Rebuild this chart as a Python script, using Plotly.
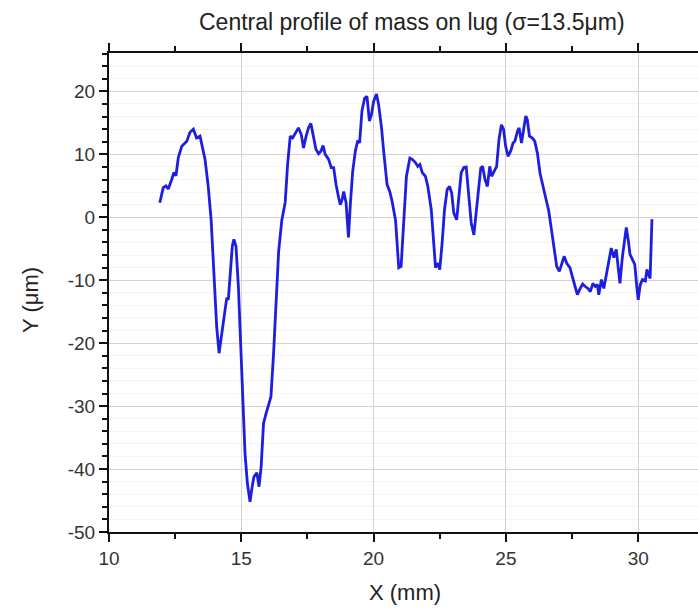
import plotly.graph_objects as go

x_mm = [11.92, 12.05, 12.15, 12.24, 12.37, 12.45, 12.53, 12.62, 12.75, 12.94, 13.06, 13.19, 13.31, 13.44,
        13.63, 13.75, 13.86, 13.96, 14.07, 14.16, 14.26, 14.39, 14.45, 14.51, 14.60, 14.66, 14.72, 14.80,
        14.89, 14.98, 15.06, 15.14, 15.23, 15.33, 15.41, 15.48, 15.59, 15.67, 15.75, 15.84, 15.94, 16.03,
        16.12, 16.22, 16.32, 16.41, 16.53, 16.66, 16.75, 16.85, 16.94, 17.04, 17.16, 17.27, 17.35, 17.45,
        17.54, 17.63, 17.73, 17.82, 17.92, 18.01, 18.09, 18.17, 18.30, 18.40, 18.49, 18.58, 18.68, 18.74,
        18.81, 18.87, 18.96, 19.05, 19.12, 19.21, 19.31, 19.40, 19.47, 19.56, 19.66, 19.75, 19.84, 19.92,
        20.00, 20.11, 20.19, 20.30, 20.38, 20.51, 20.61, 20.70, 20.83, 20.95, 21.04, 21.14, 21.24, 21.37,
        21.46, 21.58, 21.67, 21.75, 21.84, 21.96, 22.05, 22.18, 22.28, 22.34, 22.43, 22.50, 22.59, 22.68,
        22.78, 22.87, 22.95, 23.03, 23.14, 23.22, 23.31, 23.41, 23.50, 23.60, 23.69, 23.79, 23.92, 24.05,
        24.12, 24.21, 24.30, 24.39, 24.46, 24.55, 24.65, 24.74, 24.83, 24.91, 24.99, 25.08, 25.18, 25.27,
        25.34, 25.44, 25.50, 25.59, 25.66, 25.75, 25.81, 25.89, 26.00, 26.09, 26.19, 26.29, 26.47, 26.62,
        26.73, 26.83, 26.92, 27.02, 27.11, 27.20, 27.30, 27.42, 27.53, 27.62, 27.70, 27.81, 27.90, 28.00,
        28.10, 28.19, 28.29, 28.38, 28.46, 28.51, 28.61, 28.70, 28.76, 28.89, 28.98, 29.08, 29.17, 29.25,
        29.31, 29.40, 29.49, 29.55, 29.63, 29.69, 29.78, 29.87, 29.94, 30.00, 30.08, 30.16, 30.27, 30.33,
        30.39, 30.45, 30.52]

y_um = [2.3, 4.7, 5.0, 4.5, 6.0, 7.1, 6.6, 9.5, 11.3, 12.1, 13.5, 14.0, 12.6, 12.9,
        9.2, 4.9, -0.4, -9.0, -17.4, -21.6, -18.4, -14.7, -12.8, -13.1, -8.3, -4.6, -3.5, -4.6,
        -11.0, -21.6, -30.1, -37.5, -42.3, -45.2, -42.8, -41.2, -40.6, -42.8, -39.6, -32.7, -31.1, -29.8,
        -28.5, -21.6, -13.6, -5.5, -0.5, 2.4, 8.4, 12.9, 12.6, 13.4, 14.2, 13.1, 11.0, 12.9,
        14.2, 14.9, 12.6, 10.8, 10.1, 10.5, 11.4, 10.0, 9.2, 7.9, 7.9, 5.2, 3.1, 2.0,
        2.8, 4.1, 2.3, -3.2, 2.0, 7.3, 10.5, 12.2, 11.8, 16.9, 18.9, 19.2, 15.3, 16.3,
        18.4, 19.6, 17.9, 14.2, 10.5, 5.2, 4.1, 2.5, -0.5, -8.0, -7.8, -0.4, 6.5, 9.4,
        9.2, 8.7, 8.1, 8.4, 7.1, 6.5, 4.9, 1.2, -4.1, -8.0, -7.3, -8.3, -4.1, 1.2,
        4.4, 4.9, 3.9, 0.7, -0.4, 2.8, 7.1, 7.9, 8.0, 3.3, -0.9, -2.8, 2.0, 7.8,
        8.1, 6.0, 4.9, 8.1, 6.5, 7.3, 8.1, 12.4, 14.7, 14.0, 11.3, 9.7, 10.5, 11.8,
        12.1, 13.7, 14.2, 11.8, 13.7, 16.1, 15.5, 12.9, 12.6, 12.1, 10.2, 7.0, 3.7, 1.0,
        -2.2, -5.4, -7.8, -8.6, -7.5, -6.2, -7.3, -8.0, -9.7, -11.3, -12.3, -11.3, -10.6, -11.0,
        -11.3, -11.8, -10.5, -11.0, -10.7, -12.3, -9.9, -11.3, -10.1, -7.0, -4.9, -6.4, -5.1, -8.0,
        -10.5, -6.4, -3.8, -1.6, -3.8, -5.9, -6.7, -7.5, -10.7, -13.1, -10.7, -9.9, -10.1, -8.3,
        -9.1, -9.7, -0.3]

x_ticks = [10, 15, 20, 25, 30]
y_ticks = [-50, -40, -30, -20, -10, 0, 10, 20]

W, H = 698, 611
L, R, T, B = 109, 0, 53, 79

fig = go.Figure()
fig.add_trace(go.Scatter(x=x_mm, y=y_um, mode="lines",
                         line=dict(color="#1e1ee0", width=2.8), showlegend=False,
                         hoverinfo="skip"))

font_fam = "Liberation Sans, Arial, sans-serif"

fig.update_layout(
    width=W, height=H,
    margin=dict(l=L, r=R, t=T, b=B),
    paper_bgcolor="white", plot_bgcolor="white",
    font=dict(family=font_fam, color="#333333"),
    xaxis=dict(range=[10, 32.26], tickvals=x_ticks, ticktext=[str(v) for v in x_ticks],
               showline=True, linecolor="#111111", linewidth=2, mirror="ticks",
               ticks="outside", ticklen=8, tickwidth=2, tickcolor="#111111",
               showgrid=True, gridcolor="#d4d4d4", gridwidth=1, zeroline=False,
               tickfont=dict(size=19, color="#333333"),
               minor=dict(dtick=2.5, tick0=10, ticks="outside", ticklen=5, tickwidth=2,
                          tickcolor="#111111", showgrid=False)),
    yaxis=dict(range=[-50, 26.1], tickvals=y_ticks, ticktext=[str(v) for v in y_ticks],
               showline=True, linecolor="#111111", linewidth=2, mirror=False,
               ticks="outside", ticklen=8, tickwidth=2, tickcolor="#111111",
               showgrid=True, gridcolor="#d4d4d4", gridwidth=1, zeroline=False,
               tickfont=dict(size=19, color="#333333"),
               minor=dict(dtick=2, tick0=0, ticks="outside", ticklen=5, tickwidth=2,
                          tickcolor="#111111", showgrid=True, gridcolor="#f4f4f4", gridwidth=1)),
    annotations=[
        dict(text="Central profile of mass on lug (σ=13.5μm)", xref="paper", yref="paper",
             x=(412 - L) / (W - L - R), y=1 + (T - 22) / (H - T - B), xanchor="center", yanchor="middle",
             showarrow=False, font=dict(size=23, color="#222222", family=font_fam)),
        dict(text="X (mm)", xref="paper", yref="paper",
             x=(405 - L) / (W - L - R), y=-(592 - (H - B)) / (H - T - B), xanchor="center", yanchor="middle",
             showarrow=False, font=dict(size=22, color="#222222", family=font_fam)),
        dict(text="Y (μm)", xref="paper", yref="paper", textangle=-90,
             x=-(L - 30) / (W - L - R), y=(H - B - 300) / (H - T - B), xanchor="center", yanchor="middle",
             showarrow=False, font=dict(size=22, color="#222222", family=font_fam)),
    ],
)

fig.write_html("out.html")
